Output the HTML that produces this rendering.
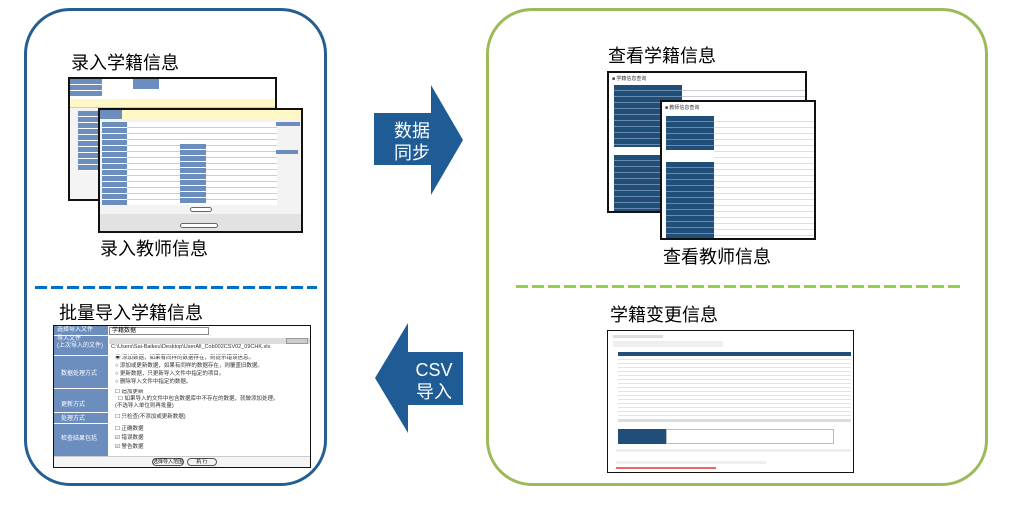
<!DOCTYPE html>
<html><head><meta charset="utf-8">
<style>
*{margin:0;padding:0;box-sizing:border-box}
body{width:1009px;height:520px;background:#fff;position:relative;overflow:hidden;font-family:"Liberation Sans","Noto Sans CJK SC",sans-serif}
.a{position:absolute}
.t{position:absolute;font-size:18px;color:#000;white-space:nowrap;line-height:20px}
.shot{position:absolute;background:#fff;border:2px solid #111;overflow:hidden}
.lb{background:#6c8ebf}
.db{background:#1f4e79}
.s{font-size:6px;color:#fff;line-height:7px;padding-left:3px;white-space:nowrap}
.k{font-size:5.5px;color:#333;line-height:8px;padding-left:3px;white-space:nowrap}
</style></head><body>
<div class="a" style="left:24px;top:8px;width:303px;height:478px;border:3.5px solid #255e91;border-radius:46px"></div>
<div class="a" style="left:486px;top:8px;width:502px;height:478px;border:3.5px solid #9bbb59;border-radius:46px"></div>
<div class="a" style="left:35px;top:286px;width:282px;height:3px;background:repeating-linear-gradient(90deg,#0070c0 0 12px,transparent 12px 16px)"></div>
<div class="a" style="left:516px;top:285px;width:446px;height:3px;background:repeating-linear-gradient(90deg,#92d050 0 12px,transparent 12px 16px)"></div>

<svg class="a" style="left:0;top:0" width="1009" height="520">
<polygon points="374,113 431,113 431,85 463,140 431,195 431,165 374,165" fill="#1f5c96"/>
<polygon points="463,352 408,352 408,323 375,378 408,433 408,405 463,405" fill="#1f5c96"/>
<text x="412" y="137" font-size="18" fill="#fff" text-anchor="middle" font-family="Liberation Sans,Noto Sans CJK SC,sans-serif">数据</text>
<text x="412" y="159" font-size="18" fill="#fff" text-anchor="middle" font-family="Liberation Sans,Noto Sans CJK SC,sans-serif">同步</text>
<text x="434" y="376" font-size="18" fill="#fff" text-anchor="middle" font-family="Liberation Sans,Noto Sans CJK SC,sans-serif">CSV</text>
<text x="434" y="398" font-size="18" fill="#fff" text-anchor="middle" font-family="Liberation Sans,Noto Sans CJK SC,sans-serif">导入</text>
</svg>

<div class="t" style="left:71px;top:53px">录入学籍信息</div>
<div class="t" style="left:100px;top:239px">录入教师信息</div>
<div class="t" style="left:59px;top:303px">批量导入学籍信息</div>
<div class="t" style="left:608px;top:46px">查看学籍信息</div>
<div class="t" style="left:663px;top:247px">查看教师信息</div>
<div class="t" style="left:610px;top:305px">学籍变更信息</div>

<!-- left top back -->
<div class="shot" style="left:68px;top:77px;width:209px;height:124px;background:#f4f4f4">
 <div class="a" style="left:0;top:0;width:209px;height:20px;background:#fff"></div>
 <div class="a lb" style="left:0;top:0;width:32px;height:18px;background:repeating-linear-gradient(180deg,#6c8ebf 0 5px,#fff 5px 6px)"></div>
 <div class="a lb" style="left:63px;top:0;width:26px;height:10px"></div>
 <div class="a" style="left:0;top:21px;width:209px;height:8px;background:#fff7c6;border-bottom:1px solid #ccc"></div>
 <div class="a lb" style="left:8px;top:32px;width:25px;height:60px;background:repeating-linear-gradient(180deg,#6c8ebf 0 5px,#fff 5px 6px)"></div>
</div>
<!-- left top front -->
<div class="shot" style="left:98px;top:108px;width:205px;height:125px;background:#f3f3f3">
 <div class="a" style="left:0;top:0;width:205px;height:9px;background:#fff7c6"></div>
 <div class="a lb" style="left:0;top:0;width:22px;height:9px"></div>
 <div class="a" style="left:2px;top:12px;width:175px;height:83px;background:repeating-linear-gradient(180deg,#fff 0 5px,#ccd 5px 6px)"></div>
 <div class="a" style="left:2px;top:12px;width:25px;height:83px;background:repeating-linear-gradient(180deg,#6c8ebf 0 5px,#fff 5px 6px)"></div>
 <div class="a" style="left:80px;top:34px;width:26px;height:60px;background:repeating-linear-gradient(180deg,#6c8ebf 0 5px,#fff 5px 6px)"></div>
 <div class="a lb" style="left:176px;top:12px;width:24px;height:4px"></div>
 <div class="a lb" style="left:176px;top:40px;width:22px;height:4px"></div>
 <div class="a" style="left:90px;top:97px;width:22px;height:5px;border:1px solid #666;border-radius:3px;background:#fff"></div>
 <div class="a" style="left:0;top:104px;width:205px;height:21px;background:#e2e2e2"></div>
 <div class="a" style="left:80px;top:113px;width:38px;height:5px;border:1px solid #666;border-radius:3px;background:#fff"></div>
</div>

<!-- bottom-left form -->
<div class="shot" style="left:53px;top:325px;width:258px;height:143px;border-width:1.5px">
 <div class="a lb" style="left:0;top:0;width:54px;height:130px"></div>
 <div class="a s" style="left:0;top:1px">选择导入文件</div>
 <div class="a s" style="left:0;top:10px">导入文件</div>
 <div class="a s" style="left:0;top:17px">(上次导入的文件)</div>
 <div class="a s" style="left:4px;top:45px">数据处理方式</div>
 <div class="a s" style="left:4px;top:76px">更新方式</div>
 <div class="a s" style="left:4px;top:90px">处理方式</div>
 <div class="a s" style="left:4px;top:110px">检查结果包括</div>
 <div class="a" style="left:55px;top:1px;width:100px;height:8px;border:1px solid #888;font-size:6px;line-height:6px;padding-left:2px">学籍数据</div>
 <div class="a" style="left:55px;top:12px;width:202px;height:6px;background:#ddd"></div>
 <div class="a" style="left:232px;top:12px;width:22px;height:6px;background:#ccc;border:1px solid #999"></div>
 <div class="a k" style="left:54px;top:17px">C:\Users\Sai-Baikeu\Desktop\UserAll_Cob002CSV02_09CHK.xls</div>
 <div class="a k" style="left:58px;top:28px">◉ 添加数据，如果有同样的数据存在，则提示错误信息。<br>○ 添加或更新数据，如果有同样的数据存在，则覆盖旧数据。<br>○ 更新数据，只更新导入文件中指定的项目。<br>○ 删除导入文件中指定的数据。</div>
 <div class="a k" style="left:58px;top:63px;line-height:7px">☐ 追加更新<br>&nbsp;&nbsp;☐ 如果导入的文件中包含数据库中不存在的数据，就做添加处理。<br>(不选导入单位则再批量)</div>
 <div class="a k" style="left:58px;top:87px">☐ 只检查(不添加或更新数据)</div>
 <div class="a k" style="left:58px;top:99px;line-height:9px">☐ 正确数据<br>☑ 错误数据<br>☑ 警告数据</div>
 <div class="a" style="left:0;top:9px;width:258px;height:1px;background:#fff"></div>
 <div class="a" style="left:0;top:29px;width:258px;height:1px;background:#fff"></div>
 <div class="a" style="left:0;top:62px;width:258px;height:1px;background:#fff"></div>
 <div class="a" style="left:0;top:86px;width:258px;height:1px;background:#fff"></div>
 <div class="a" style="left:0;top:97px;width:258px;height:1px;background:#fff"></div>
 <div class="a" style="left:0;top:130px;width:258px;height:13px;background:#f4f4f4;border-top:1px solid #ccc"></div>
 <div class="a" style="left:98px;top:132px;width:32px;height:8px;border:1px solid #555;border-radius:4px;font-size:5px;text-align:center;line-height:6px">选择导入范围</div>
 <div class="a" style="left:133px;top:132px;width:30px;height:8px;border:1px solid #555;border-radius:4px;font-size:5px;text-align:center;line-height:6px">执 行</div>
</div>

<!-- right top back -->
<div class="shot" style="left:607px;top:71px;width:200px;height:142px">
 <div class="a" style="left:3px;top:2px;font-size:5px;color:#333">■ 学籍信息查询</div>
 <div class="a" style="left:5px;top:12px;width:68px;height:62px;background:repeating-linear-gradient(180deg,#1f4e79 0 5px,#6a89ad 5px 6px)"></div>
 <div class="a" style="left:73px;top:12px;width:125px;height:62px;background:repeating-linear-gradient(180deg,#fff 0 5px,#ccd 5px 6px)"></div>
 <div class="a" style="left:5px;top:82px;width:68px;height:58px;background:repeating-linear-gradient(180deg,#1f4e79 0 5px,#6a89ad 5px 6px)"></div>
</div>
<!-- right top front -->
<div class="shot" style="left:660px;top:100px;width:156px;height:140px">
 <div class="a" style="left:3px;top:2px;font-size:5px;color:#333">■ 教师信息查询</div>
 <div class="a" style="left:4px;top:14px;width:48px;height:34px;background:repeating-linear-gradient(180deg,#1f4e79 0 5px,#6a89ad 5px 6px)"></div>
 <div class="a" style="left:4px;top:60px;width:48px;height:78px;background:repeating-linear-gradient(180deg,#1f4e79 0 5px,#6a89ad 5px 6px)"></div>
 <div class="a" style="left:52px;top:14px;width:104px;height:124px;background:repeating-linear-gradient(180deg,#fff 0 5px,#dde 5px 6px)"></div>
</div>

<!-- right bottom -->
<div class="shot" style="left:607px;top:330px;width:247px;height:143px;border-width:1.5px">
 <div class="a" style="left:5px;top:4px;width:50px;height:3px;background:#ddd"></div>
 <div class="a" style="left:5px;top:10px;width:110px;height:6px;background:#eee"></div>
 <div class="a db" style="left:10px;top:21px;width:233px;height:4px"></div>
 <div class="a" style="left:10px;top:25px;width:233px;height:62px;background:repeating-linear-gradient(180deg,#fff 0 3px,#e3e3e8 3px 4px)"></div>
 <div class="a" style="left:10px;top:88px;width:233px;height:3px;background:#ddd"></div>
 <div class="a db" style="left:10px;top:98px;width:48px;height:15px"></div>
 <div class="a" style="left:58px;top:98px;width:168px;height:15px;border:1px solid #bbb"></div>
 <div class="a" style="left:8px;top:118px;width:235px;height:3px;background:#eee"></div>
 <div class="a" style="left:8px;top:130px;width:150px;height:3px;background:#eee"></div>
 <div class="a" style="left:8px;top:136px;width:100px;height:2px;background:#e66"></div>
</div>
</body></html>
